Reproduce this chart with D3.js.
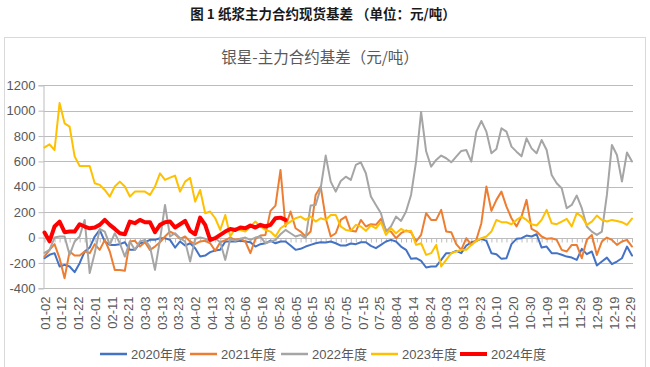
<!DOCTYPE html>
<html>
<head>
<meta charset="utf-8">
<script src="https://cdn.jsdelivr.net/npm/d3@7/dist/d3.min.js"></script>
<style>
  html, body { margin: 0; padding: 0; background: #fff; }
  svg { display: block; }
</style>
</head>
<body>
<svg id="chart" width="650" height="367"></svg>
<script>
// ---------------- DATA ----------------
const pageTitle = "图 1 纸浆主力合约现货基差 （单位：元/吨）";
const chartTitle = "银星-主力合约基差（元/吨）";
const tickLabels = ["01-02","01-12","01-22","02-01","02-11","02-21","03-03","03-13","03-23","04-02",
  "04-13","04-23","05-06","05-16","05-26","06-05","06-15","06-25","07-05","07-15",
  "07-25","08-04","08-14","08-24","09-03","09-13","09-23","10-10","10-20","10-30",
  "11-09","11-19","11-29","12-09","12-19","12-29"];
const labelEvery = 10;        // category interval between axis labels
const sampleEvery = 3;        // category interval between sampled values below
const categoryCount = 352;
const yTicks = [-400, -200, 0, 200, 400, 600, 800, 1000, 1200];
const seriesNames = ["2020年度", "2021年度", "2022年度", "2023年度", "2024年度"];

const v2020 = [-163,-136,-123,-228,-215,-228,-273,-202,-110,-79,
  8,60,-31,-58,-58,-52,-37,-97,-97,-45,
  -37,-18,-18,-5,-5,-18,-79,-31,-63,-45,
  -84,-150,-142,-115,-102,-97,-31,-31,-31,-26,
  -31,-37,-71,-52,-45,-24,-45,-31,-31,-63,
  -97,-89,-71,-58,-45,-37,-39,-31,-45,-63,
  -63,-47,-52,-37,-37,-66,-84,-58,-31,-18,
  -31,-71,-97,-168,-163,-184,-236,-228,-228,-176,
  -123,-123,-105,-123,-63,-37,-26,-10,-26,-123,
  -131,-168,-163,-52,-10,-5,16,8,26,-79,
  -71,-123,-123,-136,-150,-158,-176,-89,-131,-110,
  -220,-189,-158,-210,-189,-163,-71,-142];
const v2021 = [-150,-97,-52,-163,-320,-110,-142,-142,-110,-123,
  -52,-97,-18,-110,-255,-255,-262,-31,-26,-71,
  -37,-97,-71,-37,8,47,26,-10,8,-31,
  -52,-31,-26,-45,-105,-37,-21,0,-18,-10,
  -31,-123,-10,16,21,210,252,533,87,205,
  73,47,8,47,336,402,152,8,34,139,
  165,53,47,139,87,105,100,147,60,47,
  -5,34,55,42,-31,21,192,139,139,218,
  47,42,-52,-97,-5,-58,-18,113,402,210,
  297,362,244,152,87,165,297,68,47,8,
  -10,-5,-18,-97,-110,-58,-58,-163,-18,21,
  -137,-31,0,-18,-58,-31,-18,-71];
const v2022 = [-120,-97,0,8,8,-136,-31,8,139,-280,
  -123,68,47,-58,34,-45,-150,-31,-97,-31,
  -18,-71,-255,-18,257,8,34,-5,-31,-189,
  -10,0,-10,-31,-5,-37,-176,-10,-26,-10,
  0,-18,0,8,-45,-31,-18,26,60,34,
  8,21,-5,252,257,388,646,441,362,446,
  480,454,572,593,507,323,257,192,47,87,
  165,131,205,336,598,990,680,559,612,646,
  625,593,638,683,690,598,835,919,835,664,
  698,861,835,717,677,640,782,703,664,769,
  690,493,428,388,231,257,331,231,87,47,
  21,47,336,730,651,441,670,600];
const v2023 = [710,735,690,1060,900,874,640,564,564,564,
  428,415,375,323,402,441,402,323,362,362,
  362,336,402,506,454,472,488,362,441,470,
  283,375,192,205,152,60,178,8,73,60,
  47,87,126,87,60,47,8,73,100,126,
  152,165,139,165,126,152,139,178,178,87,
  60,53,100,87,53,95,73,121,21,73,
  34,68,47,53,-58,-45,-137,-123,-58,-228,
  -176,-123,-110,-97,-97,-58,-26,-5,8,47,
  139,121,121,105,139,165,139,105,95,139,
  218,113,105,126,147,87,192,165,100,126,
  173,139,126,139,131,121,100,150];
const v2024 = [40,-30,87,126,42,47,47,105,87,73,
  79,100,139,100,68,34,26,126,113,139,
  121,121,42,100,121,126,79,105,131,53,
  26,157,100,-18,-5,21,47,68,60,79,
  73,95,79,100,87,100,152,157,139];

const seriesValues = [v2020, v2021, v2022, v2023, v2024];
const seriesColors = ["#4472C4", "#ED7D31", "#A5A5A5", "#FFC000", "#FF0000"];
const seriesWidths = [2, 2, 2, 2, 4];

// ---------------- CHART ----------------
const svg = d3.select("#chart");
const cjk = "'Liberation Sans', Arial, 'Noto Sans CJK SC', sans-serif";

svg.append("text").attr("x", 323).attr("y", 19)
  .attr("text-anchor", "middle")
  .attr("font-family", "'Noto Sans CJK SC', sans-serif")
  .attr("font-weight", "bold").attr("font-size", 13.5).attr("fill", "#1a1a1a")
  .text(pageTitle);

svg.append("rect").attr("x", 4.5).attr("y", 37.5).attr("width", 641).attr("height", 340)
  .attr("fill", "#fff").attr("stroke", "#d9d9d9");

svg.append("text").attr("x", 320).attr("y", 63)
  .attr("text-anchor", "middle")
  .attr("font-family", "'Noto Sans CJK SC', sans-serif")
  .attr("font-size", 15.5).attr("fill", "#595959")
  .text(chartTitle);

const x = d3.scaleLinear().domain([0, categoryCount - 1]).range([44.5, 632]);
const y = d3.scaleLinear().domain([-400, 1200]).range([288.3, 85.3]);
const plotL = 43.5, plotR = 633;

// gridlines
svg.append("g").selectAll("line").data(yTicks).join("line")
  .attr("x1", plotL).attr("x2", plotR)
  .attr("y1", d => Math.round(y(d)) + 0.5).attr("y2", d => Math.round(y(d)) + 0.5)
  .attr("stroke", "#bcbcbc").attr("stroke-width", 1);

// y axis
const yAxis = svg.append("g").attr("transform", `translate(${plotL},0)`)
  .call(d3.axisLeft(y).tickValues(yTicks).tickSize(5).tickPadding(3).tickFormat(d => String(d)));
yAxis.select(".domain").attr("stroke", "#bcbcbc");
yAxis.selectAll(".tick line").attr("stroke", "#bcbcbc");
yAxis.selectAll(".tick text").attr("font-family", cjk).attr("font-size", 13).attr("fill", "#595959");

// x axis line at zero with small ticks
const tickIdx = d3.range(0, categoryCount, sampleEvery);
const zeroAxis = svg.append("g").attr("transform", `translate(0,${Math.round(y(0)) + 0.5})`)
  .call(d3.axisBottom(x).tickValues(tickIdx).tickSize(4).tickFormat(""));
zeroAxis.select(".domain").attr("stroke", "#bcbcbc").attr("d", `M${plotL},0H${plotR}`);
zeroAxis.selectAll(".tick line").attr("stroke", "#bcbcbc");

// x labels at bottom
const labelIdx = tickLabels.map((_, i) => i * labelEvery);
const xAxis = svg.append("g").attr("transform", `translate(0,${Math.round(y(-400)) + 0.5})`)
  .call(d3.axisBottom(x).tickValues(labelIdx).tickSize(0).tickFormat((d, i) => tickLabels[i]));
xAxis.select(".domain").remove();
xAxis.selectAll(".tick text")
  .attr("font-family", cjk).attr("font-size", 13).attr("fill", "#595959")
  .attr("text-anchor", "end")
  .attr("transform", "translate(0,8) rotate(-90)")
  .attr("x", 0).attr("y", 0).attr("dy", "0.35em");

// series lines
const line = d3.line().x((d, i) => x(i * sampleEvery)).y(d => y(d)).curve(d3.curveLinear);
const plot = svg.append("g");
seriesValues.forEach((vals, si) => {
  plot.append("path").datum(vals)
    .attr("d", line)
    .attr("fill", "none")
    .attr("stroke", seriesColors[si])
    .attr("stroke-width", seriesWidths[si])
    .attr("stroke-linejoin", "round")
    .attr("stroke-linecap", "round");
});

// legend
const legendX = [100, 190, 281, 371, 460];
const lg = svg.append("g");
seriesNames.forEach((name, i) => {
  const g = lg.append("g").attr("transform", `translate(${legendX[i]},354)`);
  g.append("line").attr("x1", 0).attr("x2", 27).attr("y1", 0).attr("y2", 0)
    .attr("stroke", seriesColors[i]).attr("stroke-width", seriesWidths[i] === 4 ? 4 : 2.5);
  g.append("text").attr("x", 31).attr("y", 0).attr("dy", "0.35em")
    .attr("font-family", cjk).attr("font-size", 13).attr("fill", "#595959")
    .text(name);
});
</script>
</body>
</html>
